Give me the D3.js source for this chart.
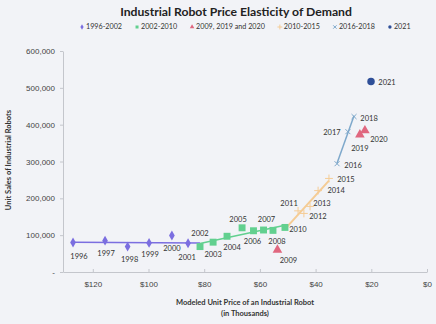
<!DOCTYPE html>
<meta charset="utf-8">
<title>Industrial Robot Price Elasticity of Demand</title>
<style>
  body { margin: 0; background: #f2f3f7; }
  svg { display: block; font-family: Lato, "Open Sans", sans-serif; }
  .tick text { fill: #444; font-size: 8px; }
  .axis path, .axis line { stroke: #c4c6cc; }
  .ptlabel { fill: #333; font-size: 7.5px; text-anchor: middle; }
</style>
<body>
<svg width="436" height="324"></svg>
<script src="https://d3js.org/d3.v7.min.js"></script>
<script>
  // values (price in $ thousands, units sold)
  var years  = [1996, 1997, 1998, 1999, 2000, 2001, 2002, 2003, 2004, 2005, 2006, 2007, 2008, 2009, 2010,
                2011, 2012, 2013, 2014, 2015, 2016, 2017, 2018, 2019, 2020, 2021];
  var prices = [127.1, 115.6, 107.5, 99.8, 91.6, 85.8, 81.5, 76.8, 71.8, 66.4, 62.3, 58.7, 55.3, 53.7, 51.0,
                46.3, 44.2, 42.0, 39.1, 35.2, 32.3, 28.4, 26.2, 24.1, 22.3, 20.1];
  var units  = [80000, 85000, 69000, 79000, 99000, 78000, 69000, 81000, 97000, 120000, 112000, 114000, 113000, 60000, 121000,
                166000, 159000, 178000, 221000, 254000, 294000, 381000, 422000, 373000, 384000, 517000];
  // which legend group draws each point
  var groupOf = [0, 0, 0, 0, 0, 0, 1, 1, 1, 1, 1, 1, 1, 2, 1,
                 3, 3, 3, 3, 3, 4, 4, 4, 2, 2, 5];

  var groupNames  = ["1996-2002", "2002-2010", "2009, 2019 and 2020", "2010-2015", "2016-2018", "2021"];
  var groupColors = ["#7b6ee0", "#62d08f", "#e0677f", "#f5cc95", "#7ea8cb", "#2f4f98"];
  var groupShapes = [d3.symbolDiamond, d3.symbolSquare, d3.symbolTriangle, d3.symbolPlus, d3.symbolTimes || d3.symbolX, d3.symbolCircle];
  var groupSizes  = [28, 48, 40, 22, 18, 44];

  // trend lines: [group, first year, last year]
  var trends = [[0, 1996, 2002], [1, 2002, 2010], [3, 2010, 2015], [4, 2016, 2018]];

  // label offsets from each point, [dx, dy]
  var labelOffsets = {
    1996: [6, 16], 1997: [1, 15], 1998: [2, 15], 1999: [1, 14], 2000: [0, 15], 2001: [-1, 17],
    2002: [0, -11], 2003: [0, 15], 2004: [5, 14], 2005: [-4, -6], 2006: [-1, 13], 2007: [3, -8],
    2008: [4, 14], 2009: [11, 13], 2010: [13, 5], 2011: [-9, -5], 2012: [14, 6], 2013: [12, 0],
    2014: [18, 2], 2015: [17, 4], 2016: [16, 4], 2017: [-16, 3], 2018: [15, 4], 2019: [0, 16],
    2020: [14, 11], 2021: [16, 3]
  };

  var svg = d3.select("svg");

  var x = d3.scaleLinear().domain([130.7, 0]).range([63, 427]);
  var y = d3.scaleLinear().domain([0, 600000]).range([272, 51]);

  // title
  svg.append("text")
    .attr("x", 236).attr("y", 16)
    .attr("text-anchor", "middle")
    .style("font-size", "12.2px").style("font-weight", "bold").style("fill", "#222")
    .text("Industrial Robot Price Elasticity of Demand");

  // legend
  var legend = svg.append("g").attr("transform", "translate(82,27)");
  var lx = 0;
  groupNames.forEach(function (name, i) {
    var g = legend.append("g").attr("transform", "translate(" + lx + ",0)");
    g.append("path")
      .attr("d", d3.symbol().type(groupShapes[i]).size(9)())
      .attr("fill", i == 3 || i == 4 ? "none" : groupColors[i])
      .attr("stroke", i == 3 || i == 4 ? groupColors[i] : "none");
    var t = g.append("text")
      .attr("x", 4).attr("dy", "0.33em")
      .style("font-size", "7.2px").style("fill", "#333")
      .text(name);
    lx += 4 + t.node().getComputedTextLength() + 15;
  });

  // axes
  svg.append("g")
    .attr("class", "axis")
    .attr("transform", "translate(0,272)")
    .call(d3.axisBottom(x)
      .tickValues([120, 100, 80, 60, 40, 20, 0])
      .tickFormat(function (d) { return "$" + d; })
      .tickSizeInner(-3).tickSizeOuter(0).tickPadding(9));

  svg.append("g")
    .attr("class", "axis")
    .attr("transform", "translate(63,0)")
    .call(d3.axisLeft(y)
      .tickValues(d3.range(0, 600001, 100000))
      .tickFormat(function (d) { return d == 0 ? "-" : d3.format(",")(d); })
      .tickSizeInner(3).tickSizeOuter(0).tickPadding(5));

  svg.append("text")
    .attr("x", 245).attr("y", 305)
    .attr("text-anchor", "middle")
    .style("font-size", "7.5px").style("font-weight", "bold").style("fill", "#333")
    .text("Modeled Unit Price of an Industrial Robot");
  svg.append("text")
    .attr("x", 245).attr("y", 316)
    .attr("text-anchor", "middle")
    .style("font-size", "7.5px").style("font-weight", "bold").style("fill", "#333")
    .text("(in Thousands)");

  svg.append("text")
    .attr("transform", "translate(11,160) rotate(-90)")
    .attr("text-anchor", "middle")
    .style("font-size", "7.5px").style("font-weight", "bold").style("fill", "#333")
    .text("Unit Sales of Industrial Robots");

  // least squares trend lines
  trends.forEach(function (tr) {
    var idx = d3.range(years.length).filter(function (i) {
      return years[i] >= tr[1] && years[i] <= tr[2] && groupOf[i] != 2;
    });
    var mx = d3.mean(idx, function (i) { return prices[i]; });
    var my = d3.mean(idx, function (i) { return units[i]; });
    var sxy = d3.sum(idx, function (i) { return (prices[i] - mx) * (units[i] - my); });
    var sxx = d3.sum(idx, function (i) { return (prices[i] - mx) * (prices[i] - mx); });
    var b = sxy / sxx;
    var p0 = d3.max(idx, function (i) { return prices[i]; });
    var p1 = d3.min(idx, function (i) { return prices[i]; });
    svg.append("line")
      .attr("x1", x(p0)).attr("y1", y(my + b * (p0 - mx)))
      .attr("x2", x(p1)).attr("y2", y(my + b * (p1 - mx)))
      .attr("stroke", groupColors[tr[0]])
      .attr("stroke-width", tr[0] == 3 ? 2 : 1.5);
  });

  // points
  svg.append("g").selectAll("path")
    .data(d3.range(years.length))
    .join("path")
    .attr("transform", function (i) { return "translate(" + x(prices[i]) + "," + y(units[i]) + ")"; })
    .attr("d", function (i) { return d3.symbol().type(groupShapes[groupOf[i]]).size(groupSizes[groupOf[i]])(); })
    .attr("fill", function (i) { var g = groupOf[i]; return g == 3 || g == 4 ? "none" : groupColors[g]; })
    .attr("stroke", function (i) { var g = groupOf[i]; return g == 3 || g == 4 ? groupColors[g] : "none"; })
    .attr("stroke-width", 1);

  svg.append("g").selectAll("text")
    .data(d3.range(years.length))
    .join("text")
    .attr("class", "ptlabel")
    .attr("x", function (i) { return x(prices[i]) + labelOffsets[years[i]][0]; })
    .attr("y", function (i) { return y(units[i]) + labelOffsets[years[i]][1]; })
    .text(function (i) { return years[i]; });
</script>
</body>
